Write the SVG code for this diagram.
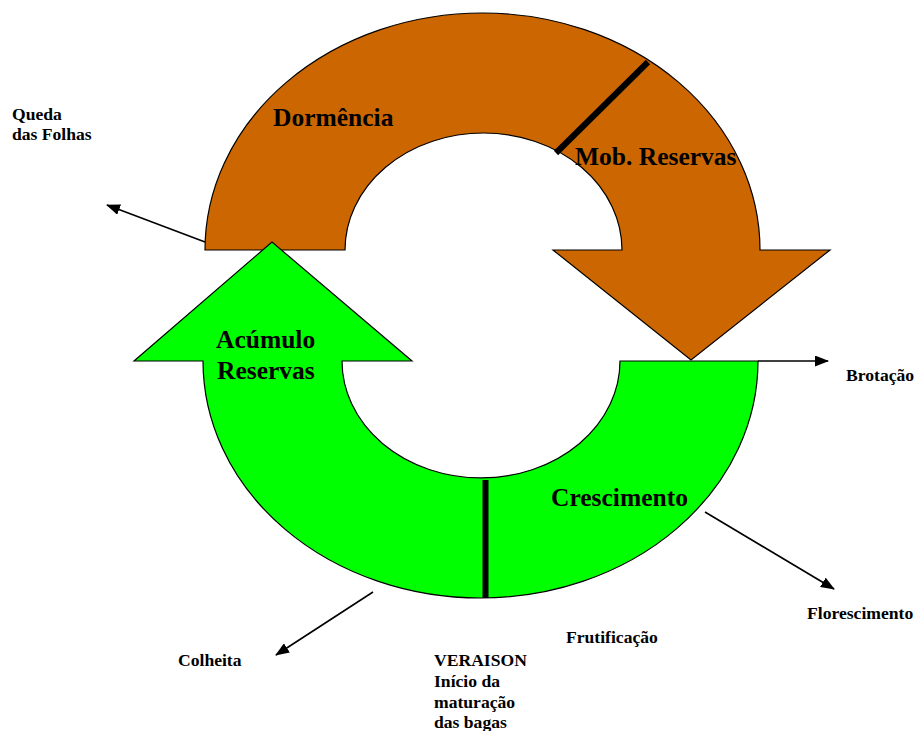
<svg xmlns="http://www.w3.org/2000/svg" width="917" height="731" viewBox="0 0 917 731">
<style>
.big{font-family:"Liberation Serif","Times New Roman",serif;font-weight:bold;font-size:25.5px;fill:#000}
.lbl{font-family:"Liberation Serif","Times New Roman",serif;font-weight:bold;font-size:17.6px;fill:#000}
.shape{stroke:#000;stroke-width:1.2;stroke-linejoin:miter}
.conn{stroke:#000;stroke-width:1.6;fill:none}
.div{stroke:#000;stroke-width:6;fill:none}
</style>
<defs>
<marker id="ah" markerWidth="14" markerHeight="11" refX="13" refY="5.5" orient="auto" markerUnits="userSpaceOnUse" viewBox="0 0 14 11">
<path d="M0,0 L14,5.5 L0,11 Z" fill="#000"/>
</marker>
</defs>
<rect width="917" height="731" fill="#fff"/>
<g id="dormencia">
<path class="shape" fill="#CC6600" d="M205,250 A277.5,237 0 0 1 760,250 L830,250 L691,360 L553,250 L622,250 A138.5,117 0 0 0 345,250 Z"/>
<line class="div" x1="648" y1="62" x2="556" y2="153"/>
<text class="big" x="273" y="125.5">Dormência</text>
<text class="big" x="575" y="165">Mob. Reservas</text>
</g>
<g id="crescimento">
<path class="shape" fill="#00FF00" d="M134,361 L272,242 L412,361 L342,361 A139,117 0 0 0 620,361 L758,361 A277.5,237 0 0 1 203,361 Z"/>
<line class="div" x1="485.5" y1="480" x2="485.5" y2="598"/>
<text class="big" x="216" y="348">Acúmulo</text>
<text class="big" x="217" y="379">Reservas</text>
<text class="big" x="551" y="505.5">Crescimento</text>
</g>
<g id="connectors">
<line class="conn" x1="205" y1="242" x2="107" y2="205" marker-end="url(#ah)"/>
<line class="conn" x1="758" y1="361" x2="828" y2="361" marker-end="url(#ah)"/>
<line class="conn" x1="705" y1="512" x2="834" y2="589" marker-end="url(#ah)"/>
<line class="conn" x1="373" y1="592" x2="276" y2="655" marker-end="url(#ah)"/>
</g>
<g id="labels">
<text class="lbl" x="12" y="120">Queda</text>
<text class="lbl" x="12" y="140">das Folhas</text>
<text class="lbl" x="846" y="381">Brotação</text>
<text class="lbl" x="807" y="619">Florescimento</text>
<text class="lbl" x="566" y="643">Frutificação</text>
<text class="lbl" x="178" y="666">Colheita</text>
<text class="lbl" x="434" y="666">VERAISON</text>
<text class="lbl" x="434" y="687">Início da</text>
<text class="lbl" x="434" y="708">maturação</text>
<text class="lbl" x="434" y="728">das bagas</text>
</g>
</svg>
